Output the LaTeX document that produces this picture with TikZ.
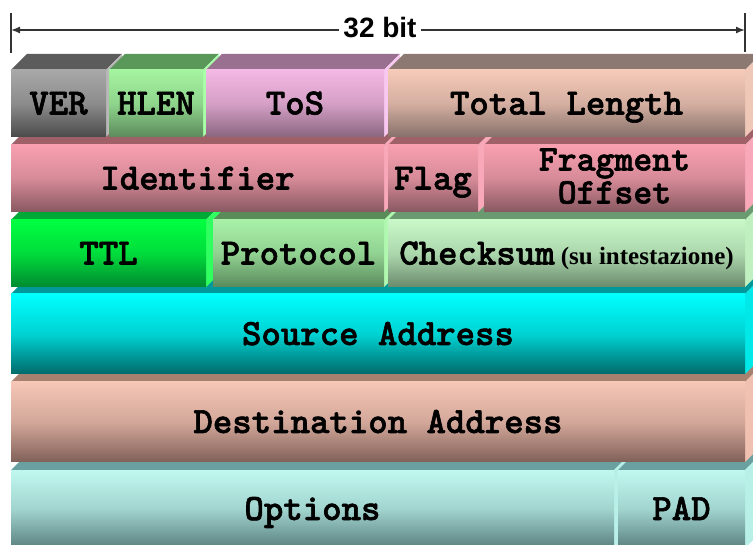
\documentclass[tikz,border=0pt]{standalone}
\usepackage{fontspec}
\usetikzlibrary{arrows.meta}
\newfontfamily\fieldfont{lmmonolt10-bold.otf}[FakeBold=1.6]
\newfontfamily\notefont{Liberation Serif}
\newfontfamily\dimfont{Liberation Sans}

% palettes: front top (hi), front bottom (lo), top face (lid), right face (side)
\definecolor{verhi}{HTML}{A8A8A8}\definecolor{verlo}{HTML}{4A4A4A}\definecolor{verlid}{HTML}{5C5C5C}\definecolor{verside}{HTML}{B8B8B8}
\definecolor{hlenhi}{HTML}{A4F4A0}\definecolor{hlenlo}{HTML}{5C8A5C}\definecolor{hlenlid}{HTML}{5A985A}\definecolor{hlenside}{HTML}{A8FFA8}
\definecolor{toshi}{HTML}{F4B8E4}\definecolor{toslo}{HTML}{8A6680}\definecolor{toslid}{HTML}{9A7090}\definecolor{tosside}{HTML}{F8C8F0}
\definecolor{totalhi}{HTML}{F6CAB8}\definecolor{totallo}{HTML}{86706A}\definecolor{totallid}{HTML}{8C7A72}\definecolor{totalside}{HTML}{F0C8B8}
\definecolor{identhi}{HTML}{F8A0B0}\definecolor{identlo}{HTML}{885860}\definecolor{identlid}{HTML}{A06068}\definecolor{identside}{HTML}{F8A8B8}
\definecolor{ttlhi}{HTML}{00FF40}\definecolor{ttllo}{HTML}{008A30}\definecolor{ttllid}{HTML}{00A838}\definecolor{ttlside}{HTML}{30FF60}
\definecolor{protohi}{HTML}{A8F0A8}\definecolor{protolo}{HTML}{5A8A5C}\definecolor{protolid}{HTML}{5A8C5A}\definecolor{protoside}{HTML}{B0F8B0}
\definecolor{checkhi}{HTML}{C8F8C8}\definecolor{checklo}{HTML}{6A8A6C}\definecolor{checklid}{HTML}{6A9A70}\definecolor{checkside}{HTML}{C0F0C0}
\definecolor{srchi}{HTML}{00FFFF}\definecolor{srclo}{HTML}{006A6A}\definecolor{srclid}{HTML}{009898}\definecolor{srcside}{HTML}{00E8E8}
\definecolor{dsthi}{HTML}{F6C6B6}\definecolor{dstlo}{HTML}{806058}\definecolor{dstlid}{HTML}{A88070}\definecolor{dstside}{HTML}{F0C0B0}
\definecolor{opthi}{HTML}{C0F8F0}\definecolor{optlo}{HTML}{5A8080}\definecolor{optlid}{HTML}{6AA0A0}\definecolor{optside}{HTML}{B8F0E8}
\definecolor{dimline}{HTML}{333333}

% one header field drawn as a box: [#1 baseline lift], #2 node name, #3 left,
% #4 right, #5 top of front face, #6 bottom of front face, #7 palette, #8 label
\newcommand{\ipfield}[8][0]{%
  \fill[#7lid] (#3,#5) -- ({#3+16},{#5-16}) -- ({#4+16},{#5-16}) -- (#4,#5) -- cycle;
  \fill[#7side] (#4,#5) -- ({#4+16},{#5-16}) -- ({#4+16},{#6-16}) -- (#4,#6) -- cycle;
  \shade[top color=#7hi, bottom color=#7lo, middle color=#7hi!70!#7lo] (#3,#5) rectangle (#4,#6);
  \node[fieldlabel] (#2) at ({(#3+#4)/2},{(#5+#6)/2+11-#1}) {#8};
}
\newcommand{\twoline}{\fontsize{36}{35}\selectfont}

\begin{document}
\begin{tikzpicture}[x=1pt,y=-1pt,
  fieldlabel/.style={font=\fieldfont\fontsize{37}{33}\selectfont, align=center, inner sep=0pt, anchor=base},
  dimtext/.style={font=\dimfont\bfseries\fontsize{28}{30}\selectfont, fill=white, inner sep=4pt}]
\useasboundingbox (0,0) rectangle (753,545);
\begin{scope}
\clip (0,0) rectangle (753,545);
% rows are drawn from the bottom up, each field left to right
\ipfield{options}{11}{614}{470}{548}{opt}{Options}
\ipfield{pad}{618}{745}{470}{548}{opt}{PAD}
\ipfield{dest}{11}{745}{382}{462}{dst}{Destination Address}
\ipfield{source}{11}{745}{294}{374}{src}{Source Address}
\ipfield{ttl}{11}{206}{220}{287}{ttl}{TTL}
\ipfield{protocol}{213}{384}{220}{287}{proto}{Protocol}
\ipfield{checksum}{388}{745}{220}{287}{check}{Checksum\,{\notefont\bfseries\fontsize{25}{26}\selectfont(su intestazione)}}
\ipfield{ident}{11}{384}{145}{212}{ident}{Identifier}
\ipfield{flag}{388}{478}{145}{212}{ident}{Flag}
\ipfield[-14]{fragment}{484}{745}{145}{212}{ident}{\twoline Fragment\\\twoline Offset}
\ipfield{ver}{11}{106}{70}{137}{ver}{VER}
\ipfield{hlen}{109}{203}{70}{137}{hlen}{HLEN}
\ipfield{tos}{206}{384}{70}{137}{tos}{ToS}
\ipfield{total}{388}{745}{70}{137}{total}{Total Length}
\end{scope}
% width dimension above the header
\coordinate (lefttop) at (11,13);
\coordinate (leftbot) at (11,53);
\coordinate (righttop) at (745,13);
\coordinate (rightbot) at (745,52);
\coordinate (leftend) at (11,30);
\coordinate (rightend) at (745,30);
\draw[dimline, line width=1.2pt] (lefttop) -- (leftbot);
\draw[dimline, line width=1.2pt] (righttop) -- (rightbot);
\draw[dimline, line width=1.4pt, {Latex[length=9pt,width=7pt]}-{Latex[length=9pt,width=7pt]}] (leftend) -- (rightend);
\node[dimtext] (width) at (380,28) {32 bit};
\end{tikzpicture}
\end{document}
